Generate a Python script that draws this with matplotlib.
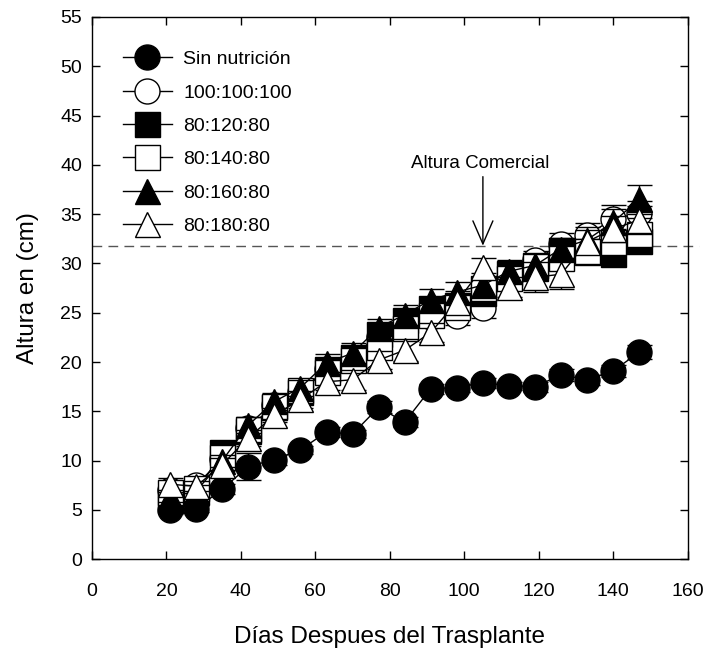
import matplotlib
matplotlib.use("Agg")
import matplotlib.pyplot as plt

plt.rcParams['font.family'] = ['Liberation Sans', 'DejaVu Sans']

# Data
days = [21, 28, 35, 42, 49, 56, 63, 70, 77, 84, 91, 98, 105, 112, 119, 126, 133, 140, 147]

sin_nutricion = [5.0, 5.1, 7.1, 9.4, 10.1, 11.1, 12.9, 12.7, 15.4, 13.9, 17.3, 17.4, 17.9, 17.6, 17.5, 18.7, 18.2, 19.1, 21.0]
t100 = [7.0, 7.5, 10.2, 13.3, 15.6, 17.0, 19.3, 20.3, 22.5, 23.8, 24.6, 24.7, 25.5, 28.5, 30.3, 32.0, 32.9, 34.5, 35.1]
t120 = [6.0, 6.8, 10.9, 13.0, 15.4, 17.0, 19.3, 20.5, 22.8, 24.3, 25.5, 25.8, 27.0, 29.0, 29.5, 31.4, 31.2, 31.0, 32.3]
t140 = [6.8, 7.2, 10.4, 13.2, 15.5, 17.2, 19.0, 20.2, 21.5, 23.5, 24.8, 25.6, 27.5, 28.5, 29.8, 30.6, 31.3, 32.2, 33.0]
t160 = [6.3, 6.9, 10.0, 13.6, 16.0, 17.4, 19.9, 20.9, 23.5, 24.8, 26.3, 27.1, 27.8, 29.2, 29.8, 31.5, 32.4, 34.2, 36.5]
t180 = [7.6, 7.4, 9.6, 12.3, 14.6, 16.2, 18.0, 18.2, 20.2, 21.2, 23.0, 26.1, 29.6, 27.6, 28.6, 28.9, 32.2, 33.5, 34.4]

err_sin = [0.4, 0.3, 0.5, 1.4, 0.5, 0.4, 0.5, 0.4, 0.6, 0.5, 0.5, 0.4, 0.5, 0.4, 0.5, 0.6, 0.5, 0.6, 0.7]
err_100 = [0.5, 0.6, 0.6, 0.7, 0.6, 0.7, 0.8, 0.7, 0.8, 0.9, 0.8, 0.9, 1.0, 0.9, 1.0, 1.1, 1.2, 1.4, 1.2]
err_120 = [0.5, 0.5, 0.6, 0.7, 0.8, 0.7, 0.8, 0.9, 0.8, 0.9, 1.0, 0.9, 1.0, 1.1, 1.0, 1.1, 1.0, 1.1, 1.0]
err_140 = [0.6, 0.6, 0.7, 0.8, 0.7, 0.8, 0.9, 1.0, 0.9, 1.0, 1.1, 1.0, 1.1, 1.2, 1.1, 1.2, 1.2, 1.3, 1.6]
err_160 = [0.5, 0.6, 0.6, 0.8, 0.9, 0.8, 0.9, 1.0, 0.9, 1.0, 1.1, 1.0, 1.2, 1.1, 1.2, 1.1, 1.3, 1.3, 1.5]
err_180 = [0.6, 0.5, 0.7, 0.8, 0.7, 0.9, 0.8, 1.0, 0.9, 1.1, 1.0, 1.1, 1.0, 1.05, 1.5, 1.45, 1.2, 1.3, 1.4]

labels = ['Sin nutrición', '100:100:100', '80:120:80', '80:140:80', '80:160:80', '80:180:80']
altura_comercial = 31.8

series = [
    (sin_nutricion, err_sin, 'o', 'black'),
    (t100, err_100, 'o', 'white'),
    (t120, err_120, 's', 'black'),
    (t140, err_140, 's', 'white'),
    (t160, err_160, '^', 'black'),
    (t180, err_180, '^', 'white'),
]

fig = plt.figure(figsize=(7.07, 6.51), dpi=100)
ax = fig.add_axes([0.130, 0.141, 0.8427, 0.8330])

handles = []
for i, ((vals, err, mk, fc), lab) in enumerate(zip(series, labels)):
    c = ax.errorbar(days, vals, yerr=err, fmt='-' + mk, color='black', mfc=fc, mec='black',
                    ms=18, mew=1, lw=1, elinewidth=1, capsize=9, capthick=1,
                    label=lab, zorder=3 + i)
    handles.append(c[0])

# commercial height line and arrow
ax.plot([0, 163], [altura_comercial, altura_comercial], color='#555555', lw=1,
        linestyle=(0, (7, 4.5)), clip_on=False, zorder=2)
ax.annotate('', xy=(105, altura_comercial), xytext=(105, 38.8),
            arrowprops=dict(arrowstyle='->,head_length=1.66,head_width=0.72', lw=1,
                            color='black', shrinkA=0, shrinkB=0, mutation_scale=10))
ax.text(104.3, 40.1, 'Altura Comercial', ha='center', va='center', fontsize=13.5)

ax.set_xlim(0, 160)
ax.set_ylim(0, 55)
ax.set_xticks(range(0, 161, 20))
ax.set_yticks(range(0, 56, 5))
ax.tick_params(direction='in', length=5.5, width=1, labelsize=14, top=True, right=True)
ax.tick_params(axis='x', pad=17)
ax.tick_params(axis='y', pad=7)
for s in ax.spines.values():
    s.set_linewidth(1)

ax.set_xlabel('Días Despues del Trasplante', fontsize=17.5, labelpad=19)
ax.set_ylabel('Altura en (cm)', fontsize=17.5, labelpad=15)

ax.legend(handles=handles, labels=labels, loc='upper left', bbox_to_anchor=(0.052, 0.938),
          frameon=False, fontsize=14, handlelength=2.5, handletextpad=0.6,
          labelspacing=0.81, borderpad=0, borderaxespad=0)

fig.savefig('out.png', dpi=100)
